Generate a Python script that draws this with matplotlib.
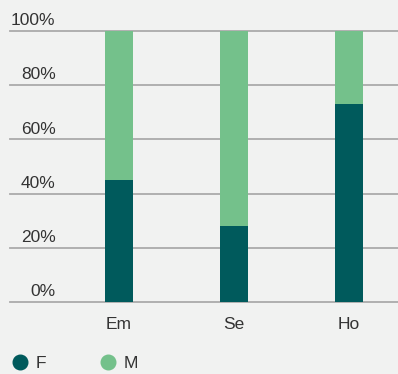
import numpy as np
import matplotlib.pyplot as plt
from matplotlib.lines import Line2D

categories = ['Em', 'Se', 'Ho']
share_f = [0.45, 0.28, 0.73]
share_m = [0.55, 0.72, 0.27]
yticks = [0.0, 0.2, 0.4, 0.6, 0.8, 1.0]
ytick_labels = ['0%', '20%', '40%', '60%', '80%', '100%']

bg = '#f1f2f1'
c_f = '#005a5c'
c_m = '#74c18b'
txt = '#333333'

plt.rcParams['font.family'] = ['Liberation Sans', 'DejaVu Sans']

fig = plt.figure(figsize=(3.98, 3.74), dpi=100, facecolor=bg)
ax = fig.add_axes([10/398, 72/374, 388/398, 271/374], facecolor=bg)

x = np.arange(len(categories))
ax.bar(x, share_f, width=0.243, color=c_f, zorder=3)
ax.bar(x, share_m, width=0.243, bottom=share_f, color=c_m, zorder=3)

for t, lab in zip(yticks, ytick_labels):
    ax.axhline(t, color='#ababab', lw=1.3, zorder=1, clip_on=False)
    ax.text(45.5/388, t + 0.01, lab, transform=ax.get_yaxis_transform(),
            ha='right', va='bottom', fontsize=12.5, color=txt)

ax.set_xlim(-0.948, 2.426)
ax.set_ylim(0, 1)
ax.set_yticks([])
ax.set_xticks(x)
ax.set_xticklabels(categories, fontsize=12.5, color=txt)
ax.tick_params(axis='x', length=0, pad=11)
for s in ax.spines.values():
    s.set_visible(False)

handles = [Line2D([], [], ls='none', marker='o', ms=10.5, color=c_f),
           Line2D([], [], ls='none', marker='o', ms=10.5, color=c_m)]
fig.legend(handles, ['F', 'M'], loc='center left', bbox_to_anchor=(-0.021, 11/374),
           ncol=2, frameon=False, fontsize=12.5, handletextpad=0.15,
           columnspacing=2.8, labelcolor=txt, handlelength=1.5)

fig.savefig('out.png', dpi=100, facecolor=bg)
